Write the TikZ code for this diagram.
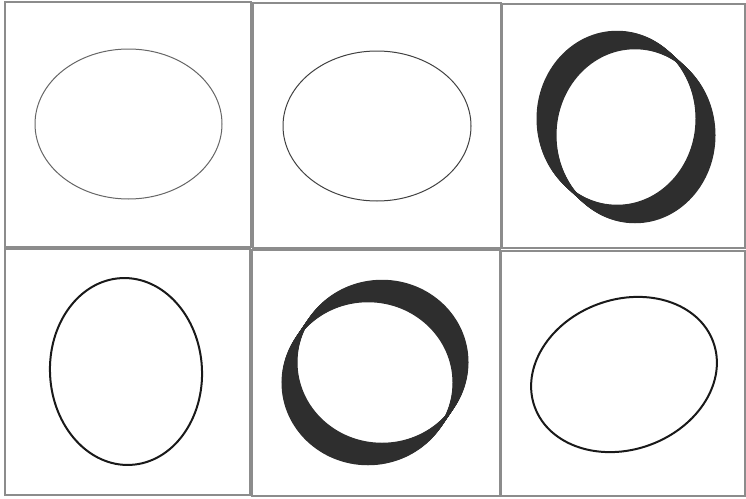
\documentclass[tikz,border=0pt]{standalone}
\usepackage{tikz}

\begin{document}
\begin{tikzpicture}[x=1pt, y=-1pt,
  panel/.style={draw=black!45, line width=1.5pt},
  thinorbit/.style={draw=black!75, line width=1pt},
  orbit/.style={draw=black!90, line width=2pt},
  bandorbit/.style={draw=black!82, line width=2pt}]
\useasboundingbox (0,0) rectangle (746,498);
% frames of the six panels
\draw[panel] (5,2) rectangle (251,247);
\draw[panel] (253,3) rectangle (501,248);
\draw[panel] (502,4) rectangle (745,248);
\draw[panel] (5,249) rectangle (250,495);
\draw[panel] (252,250) rectangle (500,496);
\draw[panel] (501,251) rectangle (745,496);
% single orbits
\draw[thinorbit, draw=black!60] (128.5,124) ellipse [x radius=93.5, y radius=75];
\draw[thinorbit] (377,126) ellipse [x radius=94, y radius=75];
\draw[orbit] (126,371.5) ellipse [x radius=76, y radius=93.5, rotate=3];
\draw[orbit] (624,374.5) ellipse [x radius=95, y radius=75, rotate=20];
% drifting orbits (bands)
\foreach \k in {0,...,30}{
  \pgfmathsetmacro{\t}{\k/30-0.5}
  \draw[bandorbit] ({626+18*\t},{127+16.5*\t}) ellipse [x radius=79.5, y radius=87];
  \draw[bandorbit] ({375-14*\t},{372.5+20.5*\t}) ellipse [x radius=85.5, y radius=81.5];
}
\end{tikzpicture}
\end{document}
